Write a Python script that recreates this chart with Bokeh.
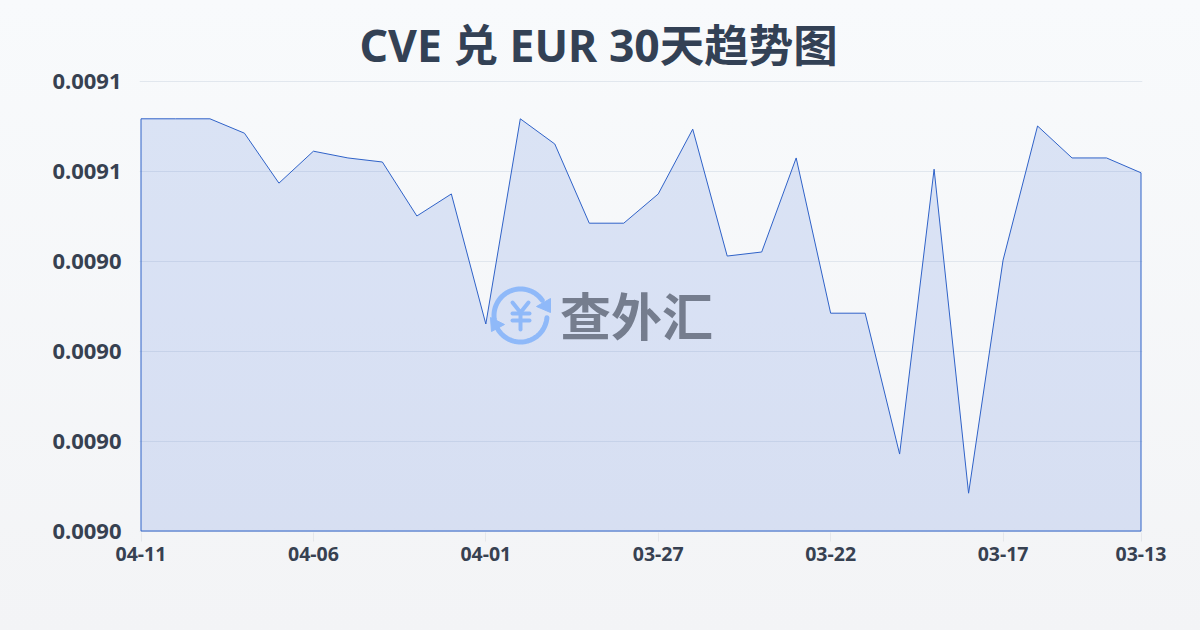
import numpy as np
from bokeh.plotting import figure
from bokeh.embed import file_html
from bokeh.resources import INLINE
from bokeh.core.properties import value
from bokeh.models import Range1d, FixedTicker, NumeralTickFormatter, Title, GlobalInlineStyleSheet

title_text = "CVE 兑 EUR 30天趋势图"
dates = ["04-11","04-10","04-09","04-08","04-07","04-06","04-05","04-04","04-03","04-02",
         "04-01","03-31","03-30","03-29","03-28","03-27","03-26","03-25","03-24","03-23",
         "03-22","03-21","03-20","03-19","03-18","03-17","03-16","03-15","03-14","03-13"]
rates = [0.0090716,0.0090716,0.0090716,0.0090684,0.0090573,0.0090644,0.0090629,0.0090620,0.0090500,0.0090549,
         0.0090260,0.0090716,0.0090660,0.0090484,0.0090484,0.0090549,0.0090693,0.0090411,0.0090420,0.0090629,
         0.0090284,0.0090284,0.0089971,0.0090604,0.0089884,0.0090402,0.0090700,0.0090629,0.0090629,0.0090596]
y_ticks = [0.00898,0.00900,0.00902,0.00904,0.00906,0.00908]
label_every = [0,5,10,15,20,25,29]

FONT = "'Noto Sans','Noto Sans CJK SC',sans-serif"
INK = "#374151"
LINE = "#2f62c8"

W, H = 1200, 630
# where the first/last data position and the lowest/highest tick fall, in pixels
X0, X1, Y0, Y1 = 140.5, 1140.5, 530.5, 80.5
# the frame is a little larger so the outline of the area is not cut
L, R, T, B = 139, 1142, 79, 532

def data_x(v): return (np.asarray(v, float) - X0) / (X1 - X0) * (len(dates) - 1)
def data_y(v): return y_ticks[0] + (Y0 - np.asarray(v, float)) / (Y0 - Y1) * (y_ticks[-1] - y_ticks[0])

x = list(range(len(dates)))
p = figure(width=W, height=H, output_backend="svg", toolbar_location=None,
           x_range=Range1d(float(data_x(L)), float(data_x(R))),
           y_range=Range1d(float(data_y(B)), float(data_y(T))),
           min_border_left=L, min_border_right=W-R, min_border_top=T, min_border_bottom=H-B,
           background_fill_color=None, border_fill_color=None, outline_line_color=None)
p.stylesheets = [GlobalInlineStyleSheet(css="html,body{margin:0;padding:0;height:100%;overflow:hidden;"
                 "background:linear-gradient(180deg,#f8fafc 0%,#f3f4f6 100%);}")]

p.add_layout(Title(text=title_text, align="left", offset=220, text_font=FONT, text_font_size="44.5px",
                   text_font_style="bold", text_color="#334155", standoff=9), "above")

# area, closed along the baseline
p.patch(x + [x[-1], x[0]], rates + [y_ticks[0], y_ticks[0]],
        fill_color="#3565d4", fill_alpha=0.15, line_color=LINE, line_width=1)

# axes
p.xaxis.ticker = FixedTicker(ticks=label_every)
p.xaxis.major_label_overrides = {i: dates[i] for i in label_every}
p.xaxis.axis_line_color = None
p.xaxis.major_tick_line_color = "#e5e7eb"
p.xaxis.major_tick_in = 0
p.xaxis.major_tick_out = 9
p.xaxis.minor_tick_line_color = None
p.xaxis.major_label_standoff = 5
p.xaxis.major_label_text_font = FONT
p.xaxis.major_label_text_font_size = "19.5px"
p.xaxis.major_label_text_font_style = "bold"
p.xaxis.major_label_text_color = INK

p.yaxis.ticker = FixedTicker(ticks=y_ticks)
p.yaxis.formatter = NumeralTickFormatter(format="0.0000")
p.yaxis.axis_line_color = None
p.yaxis.major_tick_line_color = None
p.yaxis.minor_tick_line_color = None
p.yaxis.major_label_standoff = 12
p.yaxis.major_label_text_font = FONT
p.yaxis.major_label_text_font_size = "22px"
p.yaxis.major_label_text_font_style = "bold"
p.yaxis.major_label_text_color = INK

p.xgrid.visible = False
p.ygrid.ticker = FixedTicker(ticks=y_ticks)
p.ygrid.grid_line_color = "#cbd5e1"
p.ygrid.grid_line_alpha = 0.5
p.ygrid.grid_line_width = 1

# watermark, positioned in pixels
BLUE = "#8fb9f9"
cx, cy, r = 520, 315, 26.5
for a0, a1 in ((200, 35), (-5, -155)):
    a = np.radians(np.linspace(a0, a1, 40))
    p.line(data_x(cx + r*np.cos(a)), data_y(cy - r*np.sin(a)), line_color=BLUE, line_width=5, line_cap="round")
for tri in ([(550, 298), (550, 312), (536, 306)], [(490, 317), (504, 324), (491, 331)]):
    p.patch(data_x([t[0] for t in tri]), data_y([t[1] for t in tri]), fill_color=BLUE, line_color=BLUE, line_width=1)
for seg in ([(512, 302), (520, 312), (528, 302)], [(520, 312), (520, 329)],
            [(512, 313), (529, 313)], [(512, 320), (529, 320)]):
    p.line(data_x([s[0] for s in seg]), data_y([s[1] for s in seg]), line_color=BLUE, line_width=4, line_cap="round")
p.text(data_x([636]), data_y([315]), text=["查外汇"], text_font=value(FONT), text_font_size="51px",
       text_font_style="bold", text_color="#757d8e", text_align="center", text_baseline="middle")

open("out.html", "w").write(file_html(p, INLINE))
